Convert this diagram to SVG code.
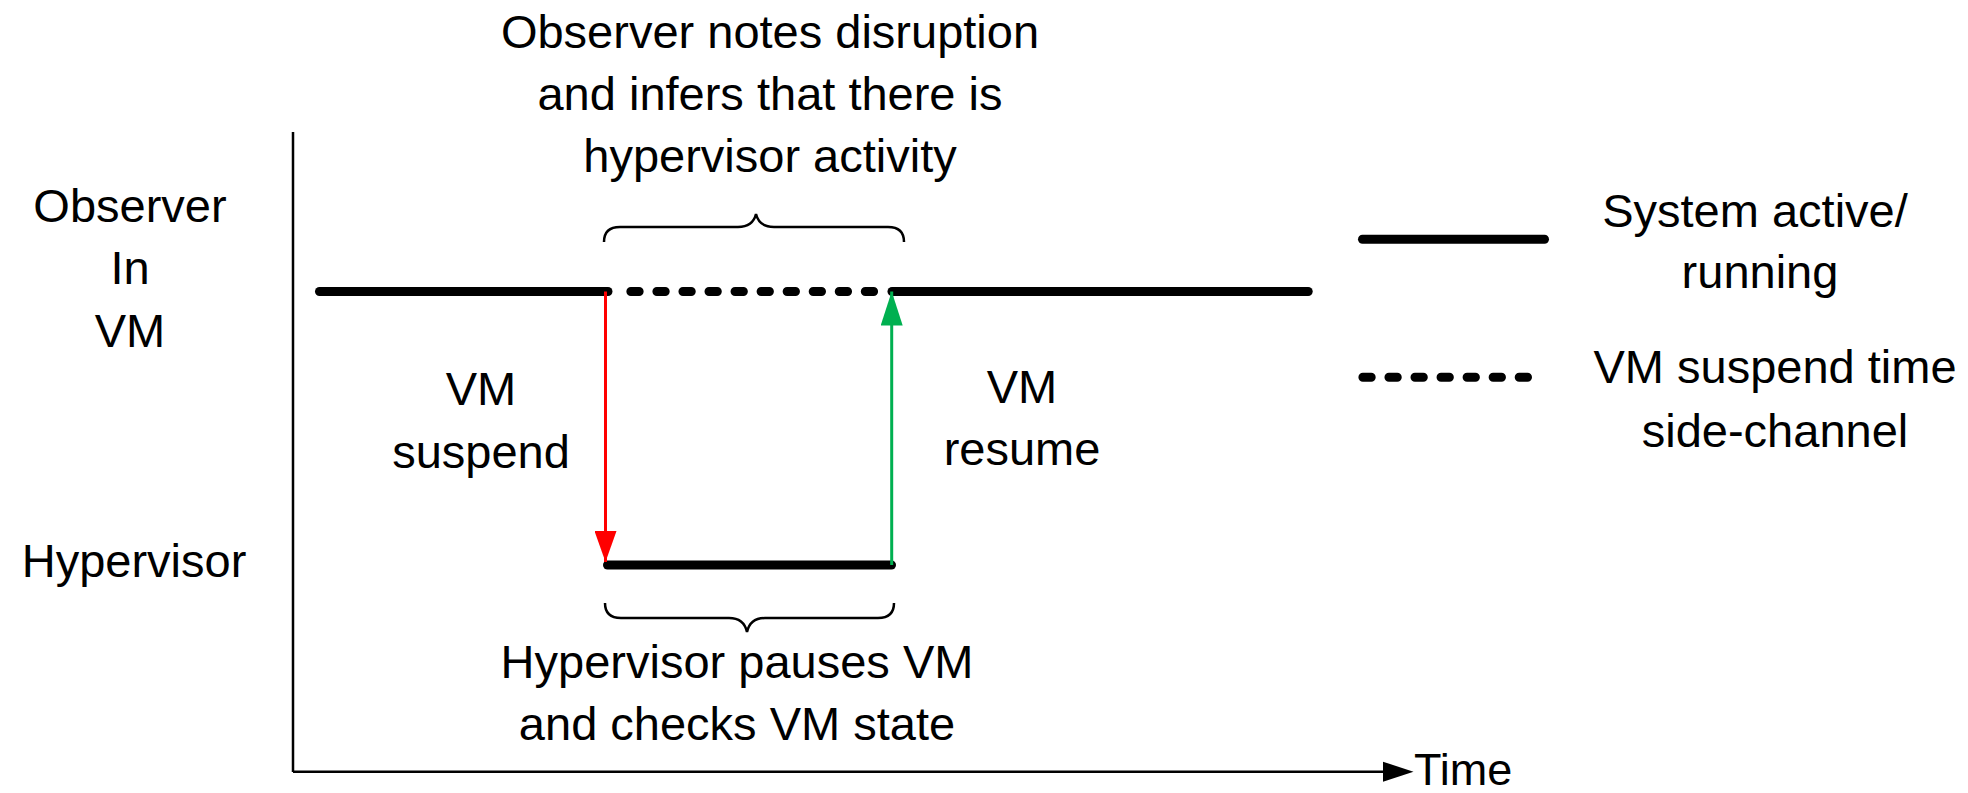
<svg xmlns="http://www.w3.org/2000/svg" width="1968" height="793" viewBox="0 0 1968 793">
  <style>
    text { font-family: "Liberation Sans", Arial, sans-serif; font-size: 47px; fill: #000; }
    .c { text-anchor: middle; }
    .run { stroke: #000; stroke-width: 9; stroke-linecap: round; fill: none; }
    .susp { stroke: #000; stroke-width: 9; stroke-linecap: round; stroke-dasharray: 8.3 17.75; fill: none; }
    .axis { stroke: #000; stroke-width: 2.5; fill: none; }
    .brace { stroke: #000; stroke-width: 2.5; fill: none; }
  </style>
  <defs>
    <marker id="redHead" viewBox="0 0 31 22" refX="31" refY="11" markerWidth="31" markerHeight="22" markerUnits="userSpaceOnUse" orient="auto">
      <path d="M0,0 L31,11 L0,22 Z" fill="#FF0000"/>
    </marker>
    <marker id="greenHead" viewBox="0 0 34 22" refX="34" refY="11" markerWidth="34" markerHeight="22" markerUnits="userSpaceOnUse" orient="auto">
      <path d="M0,0 L34,11 L0,22 Z" fill="#00B050"/>
    </marker>
  </defs>
  <rect width="1968" height="793" fill="#fff"/>

  <g id="axes">
    <line class="axis" x1="293" y1="132" x2="293" y2="772"/>
    <line class="axis" x1="293" y1="771.7" x2="1386" y2="771.7"/>
    <polygon points="1383,761.7 1413.5,771.7 1383,781.7" fill="#000"/>
    <text x="1414" y="785" style="font-size:45px">Time</text>
  </g>

  <g id="observer-label">
    <text class="c" x="130" y="222">Observer</text>
    <text class="c" x="130" y="284">In</text>
    <text class="c" x="130" y="347">VM</text>
  </g>
  <g id="hypervisor-label">
    <text class="c" x="134" y="577">Hypervisor</text>
  </g>

  <g id="observer-timeline">
    <line class="run" x1="319.5" y1="291.5" x2="608" y2="291.5"/>
    <line class="susp" x1="630.85" y1="291.5" x2="874" y2="291.5"/>
    <line class="run" x1="892" y1="291.5" x2="1308.2" y2="291.5"/>
  </g>
  <g id="hypervisor-timeline">
    <line class="run" x1="607.5" y1="565" x2="891.5" y2="565"/>
  </g>

  <g id="top-note">
    <path class="brace" d="M604,242 C604,232 610,227 620,227 H738 C748,227 754,222 756,214 C758,222 764,227 774,227 H888 C898,227 904,232 904,242"/>
    <text class="c" x="770" y="48">Observer notes disruption</text>
    <text class="c" x="770" y="110">and infers that there is</text>
    <text class="c" x="770" y="172">hypervisor activity</text>
  </g>

  <g id="bottom-note">
    <path class="brace" d="M605,603 C605,613 611,618 621,618 H729 C739,618 745,623 747,632 C749,623 755,618 765,618 H878 C888,618 894,613 894,603"/>
    <text class="c" x="737" y="678">Hypervisor pauses VM</text>
    <text class="c" x="737" y="740">and checks VM state</text>
  </g>

  <g id="suspend-label">
    <text class="c" x="481" y="405">VM</text>
    <text class="c" x="481" y="468">suspend</text>
  </g>
  <g id="resume-label">
    <text class="c" x="1022" y="403">VM</text>
    <text class="c" x="1022" y="465">resume</text>
  </g>

  <g id="legend-active">
    <line class="run" x1="1362.5" y1="239.3" x2="1544.5" y2="239.3"/>
    <text class="c" x="1755" y="227">System active/</text>
    <text class="c" x="1760" y="288">running</text>
  </g>
  <g id="legend-suspend">
    <line class="susp" x1="1362.9" y1="377.3" x2="1528" y2="377.3"/>
    <text class="c" x="1775" y="383">VM suspend time</text>
    <text class="c" x="1775" y="447">side-channel</text>
  </g>

  <g id="connectors">
    <line x1="605.5" y1="291.5" x2="605.5" y2="562" stroke="#FF0000" stroke-width="3" marker-end="url(#redHead)"/>
    <line x1="891.7" y1="565" x2="891.7" y2="291.5" stroke="#00B050" stroke-width="3" marker-end="url(#greenHead)"/>
  </g>
</svg>
